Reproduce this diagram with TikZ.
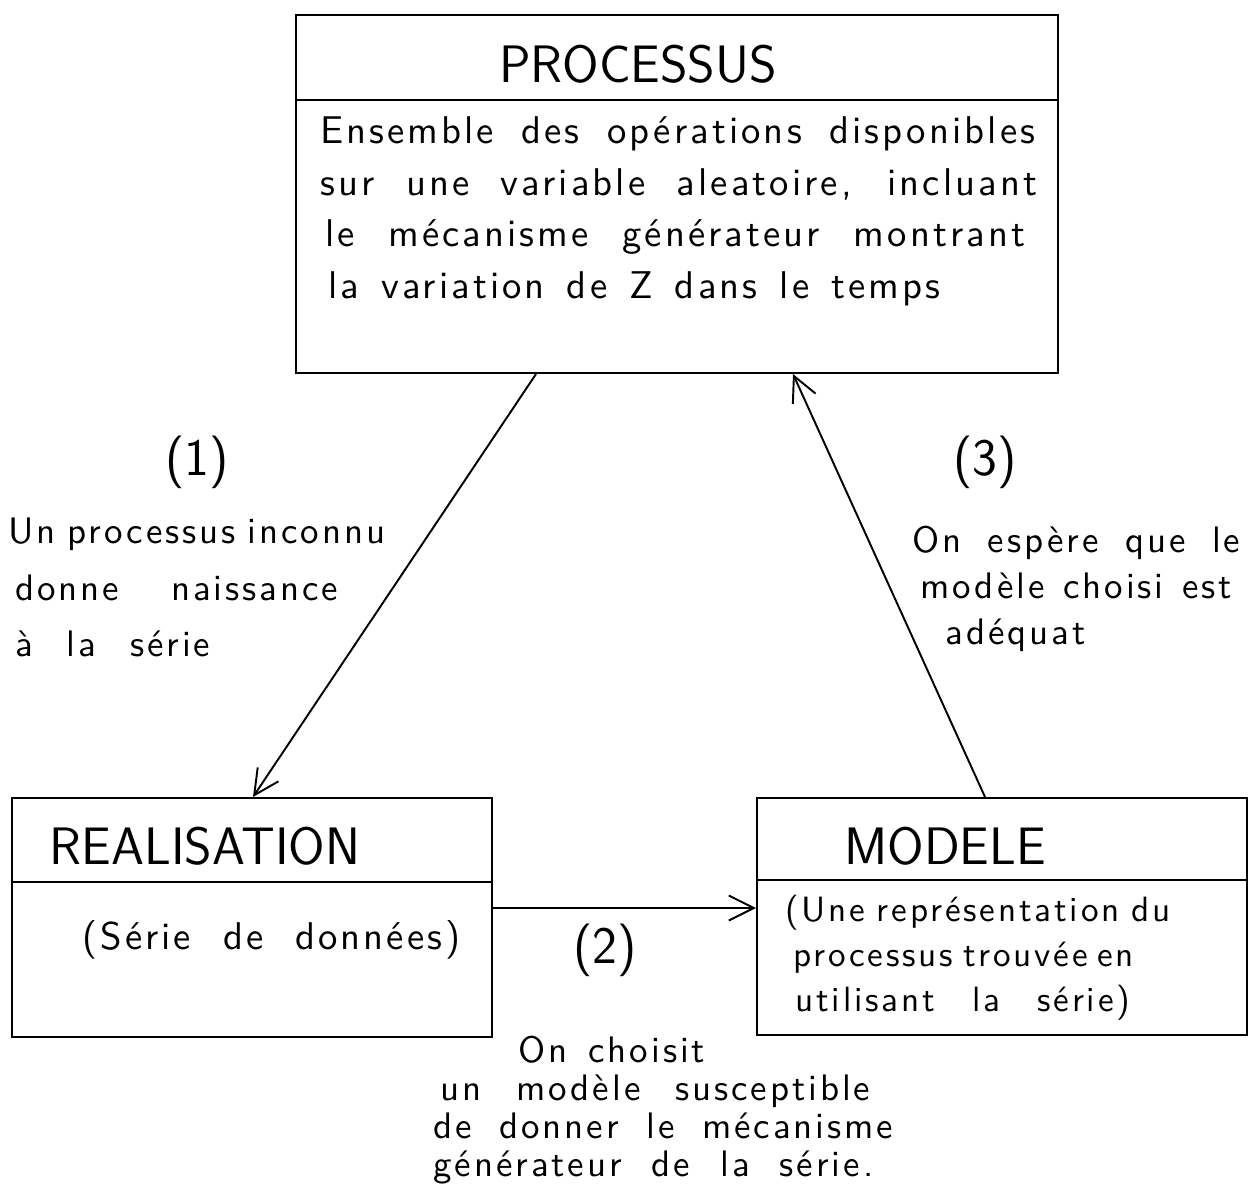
\documentclass[tikz,border=0pt]{standalone}
\usepackage{fontspec}
\newfontfamily\handfont{lmsans10-regular.otf}
\usetikzlibrary{arrows.meta,calc}
\newcommand{\strline}[2]{\makebox[#1][s]{#2}}
\newcommand{\hf}[2]{\handfont\fontsize{#1}{#2}\selectfont\addfontfeatures{LetterSpace=8}}
\begin{document}
\begin{tikzpicture}[x=0.02cm,y=-0.02cm,
  box/.style={draw,line width=1.2pt,rectangle,inner sep=0pt},
  sep/.style={line width=1.2pt},
  conn/.style={line width=1.1pt,-{Straight Barb[length=5mm,width=5mm,line width=1.1pt]}},
  title/.style={font=\sffamily\fontsize{30}{34}\selectfont,inner sep=0pt},
  num/.style={font=\sffamily\fontsize{30}{34}\selectfont,inner sep=0pt},
  hand/.style={inner sep=0pt,align=left}
]
\useasboundingbox (0,0) rectangle (1249,1198);
% boxes
\node[box,minimum width=15.24cm,minimum height=7.16cm] (proc) at (677,194) {};
\node[box,minimum width=9.6cm,minimum height=4.78cm] (real) at (252,917.5) {};
\node[box,minimum width=9.8cm,minimum height=4.74cm] (mod) at (1002,916.5) {};
% separators
\draw[sep] (296,100) -- (1058,100);
\draw[sep] (12,882) -- (492,882);
\draw[sep] (757,880) -- (1247,880);
% titles
\node[title] (tproc) at (638,64) {PROCESSUS};
\node[title] (treal) at (205,846) {REALISATION};
\node[title] (tmod) at (945,846) {MODELE};
% body texts
\node[hand,anchor=north west,font=\hf{22}{29.5}] (bproc) at (320,116) {\strline{14.3cm}{Ensemble des opérations disponibles}\\\strline{14.34cm}{sur une variable aleatoire, incluant}\\\hspace*{0.1cm}\strline{14.0cm}{le mécanisme générateur montrant}\\\hspace*{0.16cm}\strline{12.24cm}{la variation de Z dans le temps}};
\node[hand,anchor=west,font=\hf{22}{28}] (breal) at (82,940) {\strline{7.56cm}{(Série de données)}};
\node[hand,anchor=north west,font=\hf{20}{25.5}] (bmod) at (785,895) {\strline{7.7cm}{(Une représentation du}\\\hspace*{0.16cm}\strline{6.74cm}{processus trouvée en}\\\hspace*{0.2cm}\strline{6.7cm}{utilisant la série)}};
% connectors
\draw[conn] ($(proc.south)+(-141,0)$) -- ($(real.north)+(1,0)$);
\draw[conn] ($(real.east)+(0,-9.5)$) -- ($(mod.west)+(0,-8.5)$);
\draw[conn] ($(mod.north)+(-17,0)$) -- ($(proc.south)+(116,0)$);
% labels
\node[num] (n1) at (197,462) {(1)};
\node[num] (n2) at (605,950) {(2)};
\node[num] (n3) at (985,462) {(3)};
\node[hand,anchor=north west,font=\hf{21}{32}] (l1) at (8,518) {\strline{7.54cm}{Un processus inconnu}\\\hspace*{0.14cm}\strline{6.46cm}{donne naissance}\\\hspace*{0.14cm}\strline{3.9cm}{à la série}};
\node[hand,anchor=north west,font=\hf{21}{26}] (l3) at (912,526) {\strline{6.56cm}{On espère que le}\\\hspace*{0.16cm}\strline{6.24cm}{modèle choisi est}\\\hspace*{0.66cm}\strline{2.64cm}{adéquat}};
\node[hand,anchor=north west,font=\hf{21}{21.5}] (l2) at (433,1036) {\hspace*{1.7cm}\strline{3.74cm}{On choisit}\\\hspace*{0.14cm}\strline{8.6cm}{un modèle susceptible}\\\strline{9.2cm}{de donner le mécanisme}\\\strline{8.8cm}{générateur de la série.}};
\end{tikzpicture}
\end{document}
